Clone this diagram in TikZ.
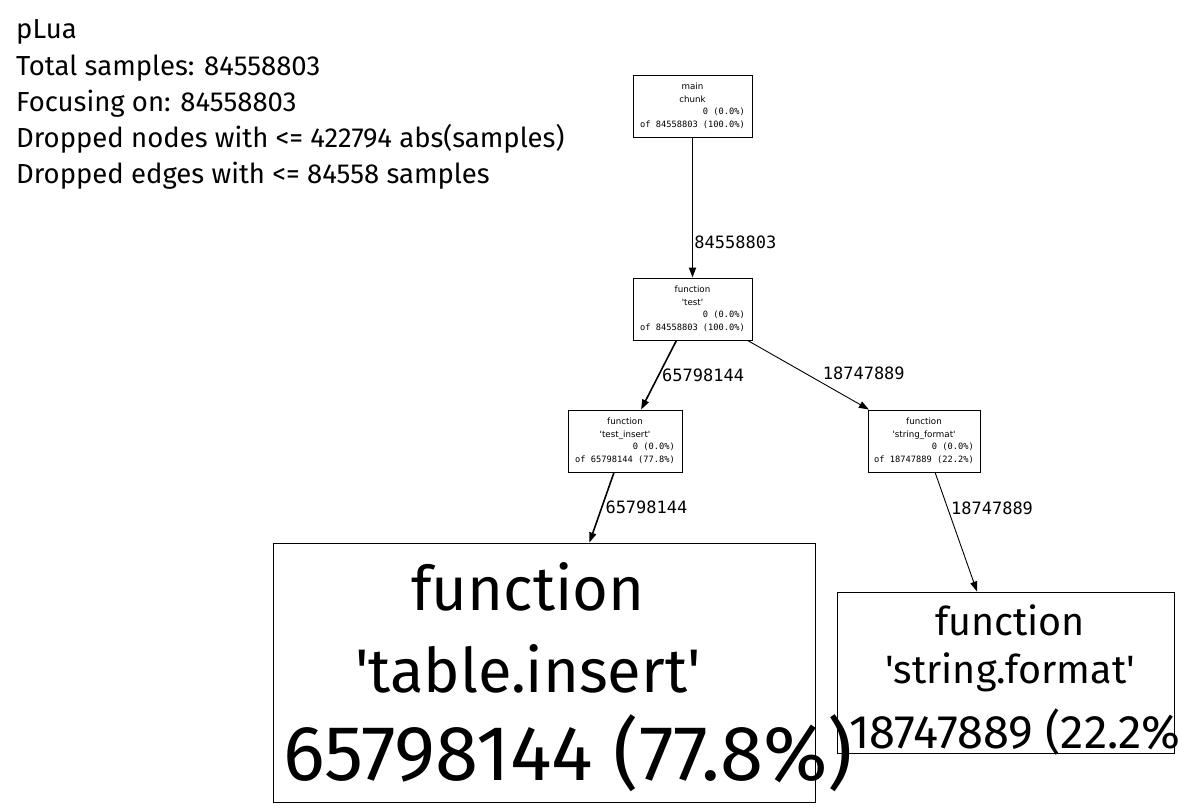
\documentclass[tikz,border=0pt]{standalone}
\usepackage{fontspec}
\setmainfont{Fira Sans}
\newfontfamily\smallfont{DejaVu Sans}
\newfontfamily\monofont{DejaVu Sans Mono}
\usetikzlibrary{arrows.meta}
\newcommand\qs{\textquotesingle}
% four-line profile entry: two centred name lines, two right-aligned counts
\newcommand\entry[4]{%
  \begin{tabular}{@{}r@{}}
    \multicolumn{1}{@{}c@{}}{\smallfont #1}\\
    \multicolumn{1}{@{}c@{}}{\smallfont #2}\\
    {\monofont #3}\\
    {\monofont #4}
  \end{tabular}}

\begin{document}
\begin{tikzpicture}[x=1pt,y=-1pt,
  frame/.style={draw=black, line width=0.9pt, inner sep=0pt},
  smallbox/.style={frame, minimum height=62pt, font=\fontsize{8.7}{12.7}\selectfont},
  flow/.style={draw=black, -{Triangle[length=10pt,width=7pt]}},
  elabel/.style={font=\monofont\fontsize{17}{20}\selectfont, inner sep=2pt},
  header/.style={anchor=base west, inner sep=0pt, font=\fontsize{27.5}{36}\selectfont},
  bigA/.style={anchor=base, inner sep=0pt, font=\fontsize{61.5}{81}\selectfont},
  bigAnum/.style={anchor=base west, inner sep=0pt, font=\fontsize{78}{90}\selectfont},
  bigB/.style={anchor=base, inner sep=0pt, font=\fontsize{39.5}{46.5}\selectfont},
  bigBnum/.style={anchor=base west, inner sep=0pt, font=\fontsize{47}{52}\selectfont},
]
\useasboundingbox[fill=white] (0,0) rectangle (1179,809);

% legend
\node[header] (h1) at (16,38)  {pLua};
\node[header] (h2) at (16,75)  {Total samples: 84558803};
\node[header] (h3) at (16,111) {Focusing on: 84558803};
\node[header] (h4) at (16,147) {Dropped nodes with <= 422794 abs(samples)};
\node[header] (h5) at (16,183) {Dropped edges with <= 84558 samples};

% call-graph entries
\node[smallbox, minimum width=119pt] (main) at (692.5,106)
  {\entry{main}{chunk}{0 (0.0\%)}{of 84558803 (100.0\%)}};
\node[smallbox, minimum width=119pt] (test) at (692.5,309)
  {\entry{function}{\qs test\qs}{0 (0.0\%)}{of 84558803 (100.0\%)}};
\node[smallbox, minimum width=114pt] (tinsert) at (625,441)
  {\entry{function}{\qs test\_insert\qs}{0 (0.0\%)}{of 65798144 (77.8\%)}};
\node[smallbox, minimum width=112pt] (sfmt) at (924,441)
  {\entry{function}{\qs string\_format\qs}{0 (0.0\%)}{of 18747889 (22.2\%)}};

% leaf entries: frames first, their oversized labels on top
\node[frame, minimum width=542pt, minimum height=259pt] (tabins) at (544,672.5) {};
\node[frame, minimum width=337pt, minimum height=161pt] (strfmt) at (1005.5,672.5) {};

\node[bigA] (tabinsA) at (528,610) {function};
\node[bigA] (tabinsB) at (528,692) {\qs table.insert\qs};
\node[bigAnum] (tabinsC) at (283,780) {65798144 (77.8\%)};

\node[bigB] (strfmtA) at (1010,635) {function};
\node[bigB] (strfmtB) at (1010,683) {\qs string.format\qs};
\node[bigBnum] (strfmtC) at (849,748) {18747889 (22.2\%};

% call edges
\draw[flow, line width=1.8pt] (main) -- (test)
  node[elabel, pos=0.745, anchor=west, inner sep=1pt] {84558803};
\draw[flow, line width=1.6pt] (test) -- (tinsert)
  node[elabel, pos=0.51, anchor=west, inner sep=3pt] {65798144};
\draw[flow, line width=0.9pt] (test) -- (sfmt)
  node[elabel, pos=0.6, anchor=south west, inner sep=2pt] {18747889};
\draw[flow, line width=1.6pt] (tinsert) -- (tabins)
  node[elabel, pos=0.5, anchor=west, inner sep=3pt] {65798144};
\draw[flow, line width=0.9pt] (sfmt) -- (strfmt)
  node[elabel, pos=0.3, anchor=west, inner sep=3pt] {18747889};
\end{tikzpicture}
\end{document}
